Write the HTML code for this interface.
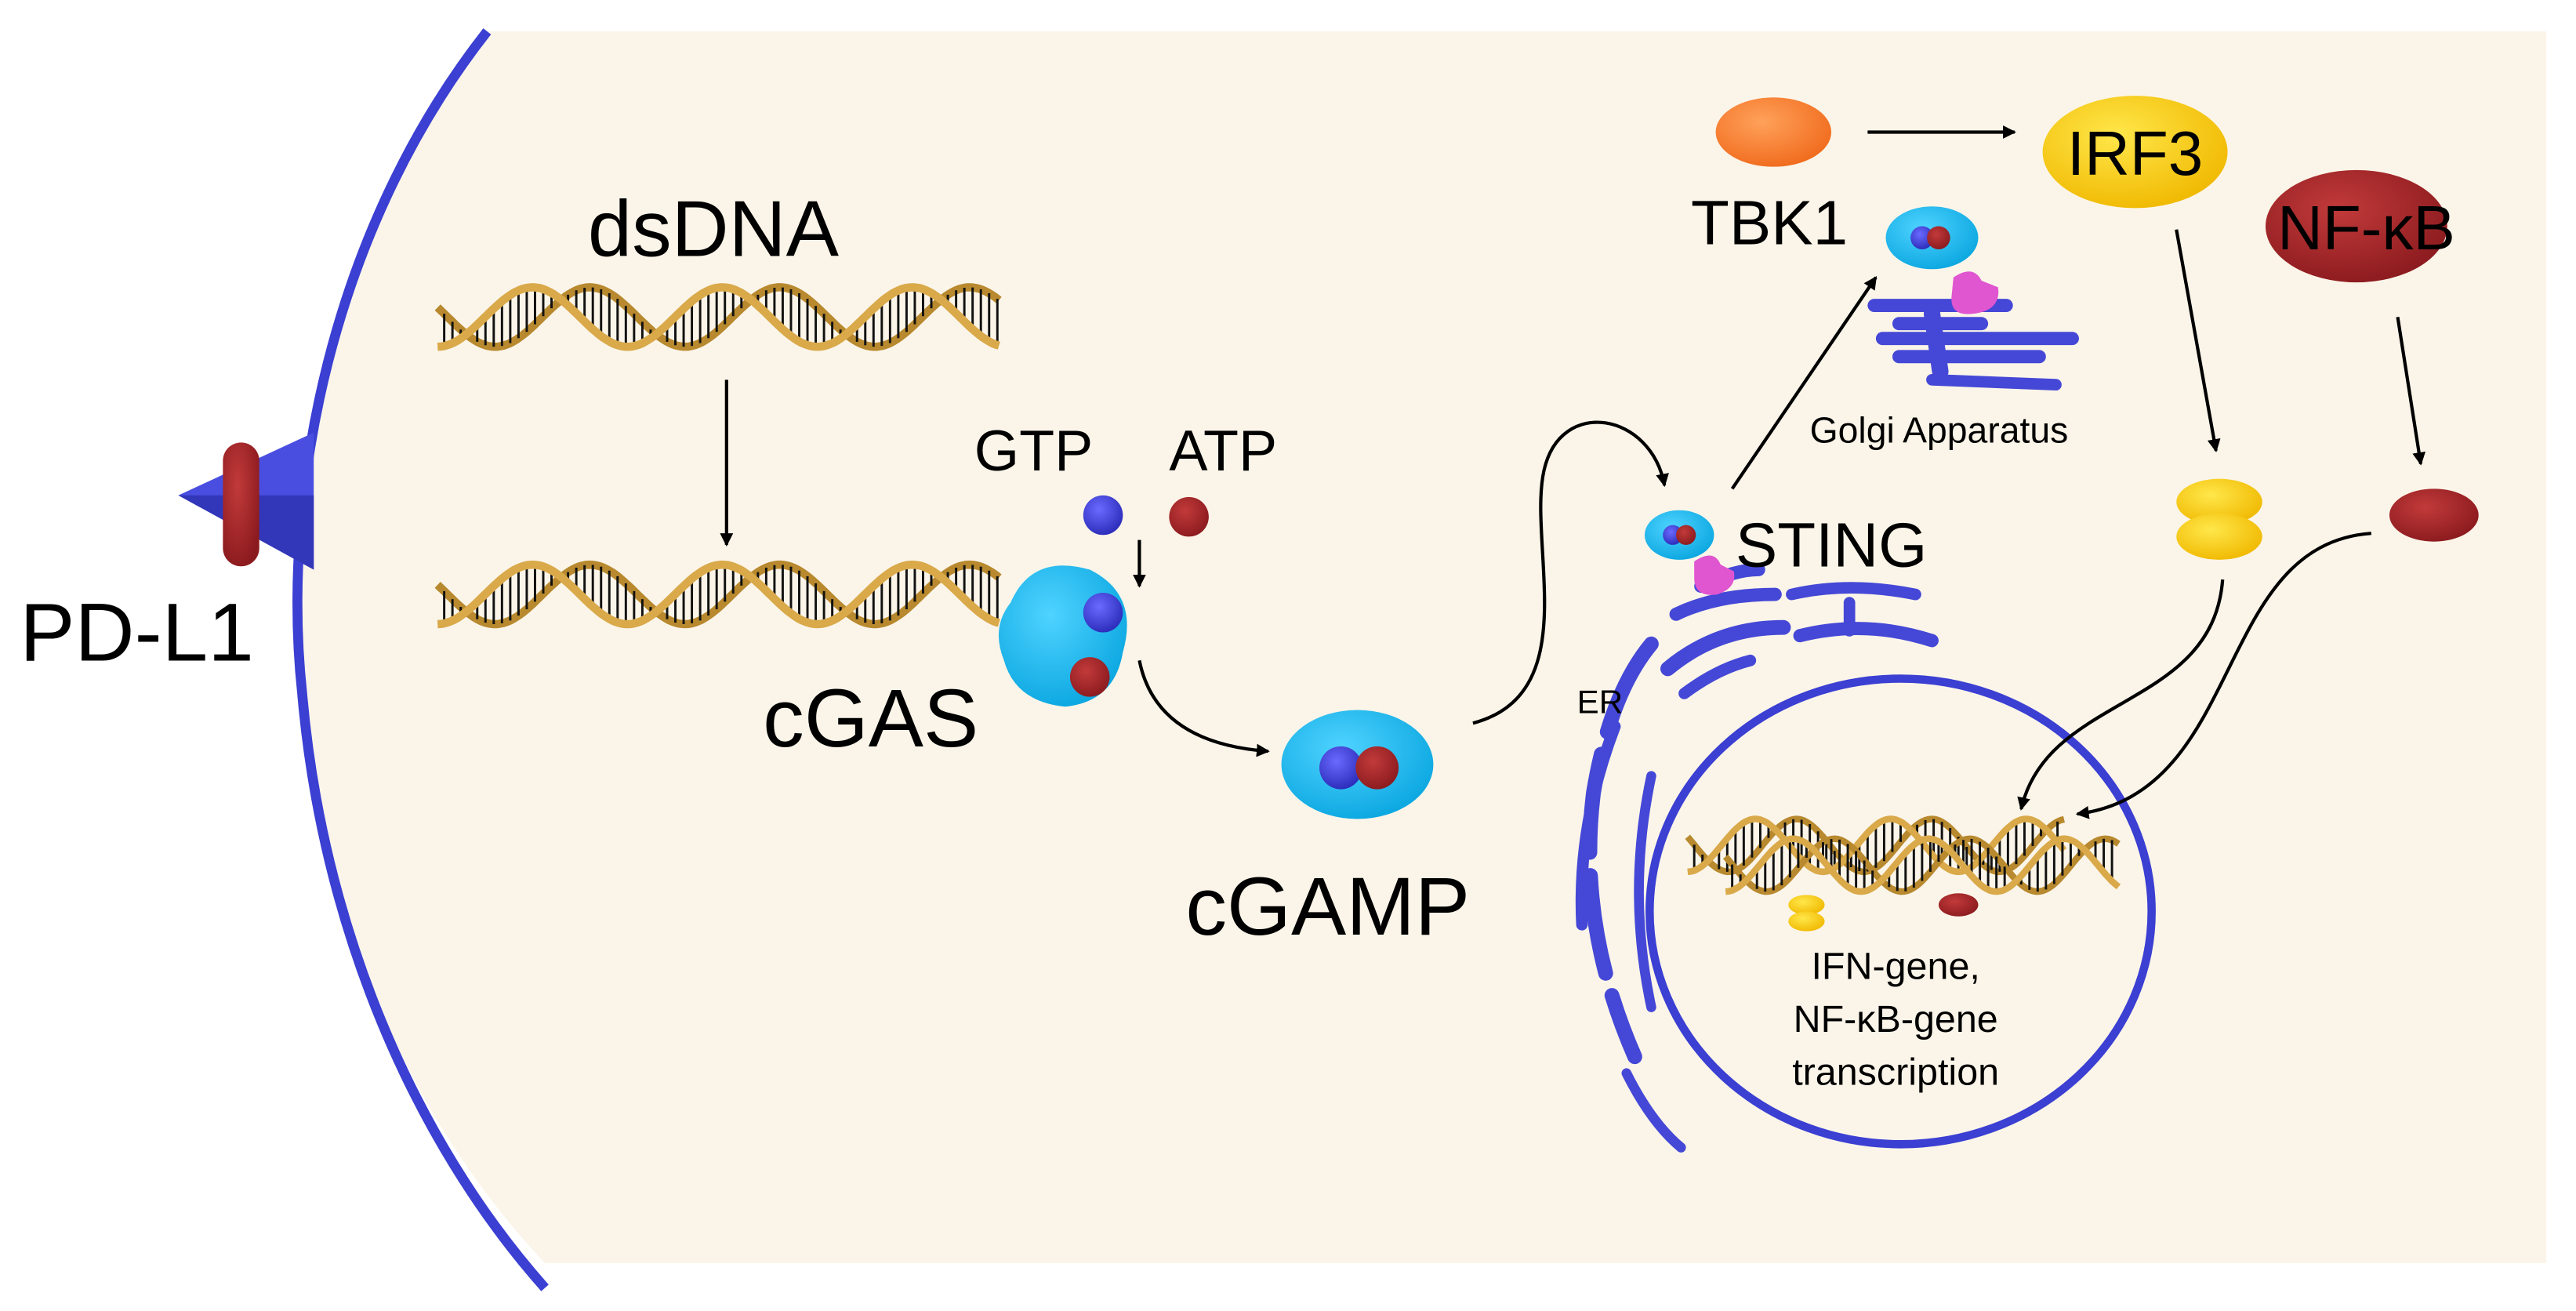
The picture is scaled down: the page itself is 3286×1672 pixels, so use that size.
<!DOCTYPE html>
<html><head><meta charset="utf-8"><style>
html,body{margin:0;padding:0;background:#fff;}
svg{display:block;}
text{font-family:"Liberation Sans",sans-serif;fill:#000;}
</style></head><body>
<svg id="s" width="3286" height="1672" viewBox="0 0 1560 794" preserveAspectRatio="none" xmlns="http://www.w3.org/2000/svg">
<defs>
<marker id="ah" markerWidth="8" markerHeight="8" refX="7" refY="4" orient="auto" markerUnits="userSpaceOnUse"><path d="M0,0 L8,4 L0,8 Z" fill="#000"/></marker>
<radialGradient id="cy" cx="0.4" cy="0.35" r="0.7"><stop offset="0" stop-color="#4fd3ff"/><stop offset="1" stop-color="#0aa6e0"/></radialGradient>
<radialGradient id="or" cx="0.4" cy="0.35" r="0.7"><stop offset="0" stop-color="#ffa15a"/><stop offset="1" stop-color="#f06a1c"/></radialGradient>
<radialGradient id="ye" cx="0.4" cy="0.35" r="0.7"><stop offset="0" stop-color="#ffe74a"/><stop offset="1" stop-color="#f0b800"/></radialGradient>
<radialGradient id="rd" cx="0.4" cy="0.35" r="0.7"><stop offset="0" stop-color="#c23a3a"/><stop offset="1" stop-color="#8a1a1e"/></radialGradient>
<radialGradient id="bl" cx="0.4" cy="0.35" r="0.7"><stop offset="0" stop-color="#6a6aff"/><stop offset="1" stop-color="#2a2ab8"/></radialGradient>
</defs>
<rect width="1560" height="794" fill="#fff"/>
<path d="M295,19 C200,140 170,300 183,420 C195,560 250,680 330,765 L1542,765 L1542,19 Z" fill="#FBF5E9"/>
<path d="M295,19 C200,140 170,300 183,420 C195,560 250,690 330,780" fill="none" stroke="#3B3FD2" stroke-width="6"/>
<!-- PD-L1 -->
<polygon points="108,300 190,262 190,345" fill="#4a4ee0"/>
<polygon points="108,300 190,300 190,345" fill="#3236b8"/>
<rect x="135" y="268" width="22" height="75" rx="11" fill="url(#rd)"/>
<text x="12" y="400" font-size="50">PD-L1</text>
<!-- left texts -->
<text x="432" y="155" font-size="48" text-anchor="middle">dsDNA</text>
<g id="dna1"></g>
<g id="dna1b"></g>
<line x1="440" y1="230" x2="440" y2="330" stroke="#000" stroke-width="2" marker-end="url(#ah)"/>
<text x="590" y="285" font-size="35">GTP</text>
<text x="708" y="285" font-size="35">ATP</text>
<circle cx="668" cy="312" r="12" fill="url(#bl)"/>
<circle cx="720" cy="313" r="12" fill="url(#rd)"/>
<line x1="690" y1="327" x2="690" y2="355" stroke="#000" stroke-width="2" marker-end="url(#ah)"/>
<path d="M612,365 Q625,335 660,345 Q690,360 680,395 Q675,425 645,428 Q615,425 608,400 Q600,380 612,365Z" fill="url(#cy)"/>
<circle cx="668" cy="371" r="12" fill="url(#bl)"/>
<circle cx="660" cy="410" r="12" fill="url(#rd)"/>
<text x="462" y="452" font-size="50">cGAS</text>
<path d="M690,400 Q700,450 768,455" fill="none" stroke="#000" stroke-width="2" marker-end="url(#ah)"/>
<ellipse cx="822" cy="463" rx="46" ry="33" fill="url(#cy)"/>
<circle cx="812" cy="465" r="13" fill="url(#bl)"/>
<circle cx="834" cy="465" r="13" fill="url(#rd)"/>
<text x="718" y="566" font-size="50">cGAMP</text>
<path d="M892,438 C960,420 925,330 935,285 C945,240 1000,250 1008,294" fill="none" stroke="#000" stroke-width="2" marker-end="url(#ah)"/>
<!-- Nucleus & ER -->
<g fill="none" stroke="#4548d6" stroke-linecap="round">
<path d="M1000,390 Q975,420 965,480 Q955,560 990,640" stroke-width="9" stroke-dasharray="60 14"/>
<path d="M978,440 Q955,500 958,560" stroke-width="7"/>
<path d="M985,650 Q1000,680 1018,695" stroke-width="6"/>
<path d="M1010,405 Q1040,380 1080,380" stroke-width="9"/>
<path d="M1015,372 Q1040,360 1075,360" stroke-width="8"/>
<path d="M1030,355 Q1050,345 1065,345" stroke-width="8"/>
<path d="M1090,385 Q1130,375 1170,388" stroke-width="8"/>
<path d="M1085,360 Q1120,352 1160,360" stroke-width="7"/>
<path d="M1120,365 L1120,382" stroke-width="7"/>
<path d="M1020,420 Q1040,405 1060,400" stroke-width="7"/>
<path d="M1000,470 Q985,540 1000,610" stroke-width="6"/>
</g>
<ellipse cx="1151" cy="552" rx="152" ry="141" fill="none" stroke="#3B3FD2" stroke-width="5"/>
<g id="dna2"></g>
<ellipse cx="1094" cy="548" rx="11" ry="6" fill="url(#ye)"/>
<ellipse cx="1094" cy="558" rx="11" ry="6" fill="url(#ye)"/>
<ellipse cx="1186" cy="548" rx="12" ry="7" fill="url(#rd)"/>
<text x="1148" y="593" font-size="23" text-anchor="middle">IFN-gene,</text>
<text x="1148" y="625" font-size="23" text-anchor="middle">NF-κB-gene</text>
<text x="1148" y="657" font-size="23" text-anchor="middle">transcription</text>
<text x="955" y="432" font-size="20">ER</text>
<!-- STING -->
<ellipse cx="1017" cy="324" rx="21" ry="15" fill="url(#cy)"/>
<circle cx="1013" cy="324" r="6" fill="url(#bl)"/><circle cx="1021" cy="324" r="6" fill="url(#rd)"/>
<path d="M1026,340 Q1038,332 1042,342 L1050,346 Q1052,356 1040,360 Q1026,362 1026,350Z" fill="#e055d0"/>
<text x="1051" y="343" font-size="38">STING</text>
<line x1="1049" y1="296" x2="1136" y2="168" stroke="#000" stroke-width="2" marker-end="url(#ah)"/>
<!-- Golgi -->
<g fill="none" stroke="#4548d6" stroke-linecap="round">
<path d="M1135,185 L1215,185" stroke-width="8"/>
<path d="M1150,196 L1200,196" stroke-width="8"/>
<path d="M1140,205 L1255,205" stroke-width="8"/>
<path d="M1150,216 L1235,216" stroke-width="8"/>
<path d="M1170,230 L1245,233" stroke-width="7"/>
<path d="M1170,190 L1175,225" stroke-width="10"/>
</g>
<ellipse cx="1170" cy="144" rx="28" ry="19" fill="url(#cy)"/>
<circle cx="1164" cy="144" r="7" fill="url(#bl)"/><circle cx="1174" cy="144" r="7" fill="url(#rd)"/>
<path d="M1183,168 Q1195,160 1200,170 L1210,174 Q1212,188 1195,190 Q1180,192 1182,178Z" fill="#e055d0"/>
<text x="1096" y="268" font-size="22">Golgi Apparatus</text>
<!-- TBK1 / IRF3 / NFkB -->
<ellipse cx="1074" cy="80" rx="35" ry="21" fill="url(#or)"/>
<text x="1024" y="148" font-size="38">TBK1</text>
<line x1="1131" y1="80" x2="1220" y2="80" stroke="#000" stroke-width="2" marker-end="url(#ah)"/>
<ellipse cx="1293" cy="92" rx="56" ry="34" fill="url(#ye)"/>
<text x="1293" y="106" font-size="38" text-anchor="middle">IRF3</text>
<ellipse cx="1427" cy="137" rx="55" ry="34" fill="url(#rd)"/>
<text x="1433" y="151" font-size="38" text-anchor="middle">NF-κB</text>
<line x1="1318" y1="139" x2="1342" y2="273" stroke="#000" stroke-width="2" marker-end="url(#ah)"/>
<line x1="1452" y1="192" x2="1466" y2="281" stroke="#000" stroke-width="2" marker-end="url(#ah)"/>
<ellipse cx="1344" cy="304" rx="26" ry="14" fill="url(#ye)"/>
<ellipse cx="1344" cy="325" rx="26" ry="14" fill="url(#ye)"/>
<ellipse cx="1474" cy="312" rx="27" ry="16" fill="url(#rd)"/>
<path d="M1346,351 C1340,430 1240,420 1224,490" fill="none" stroke="#000" stroke-width="2" marker-end="url(#ah)"/>
<path d="M1436,323 C1340,330 1360,480 1258,493" fill="none" stroke="#000" stroke-width="2" marker-end="url(#ah)"/>
</svg>
<script>
function helix(g,x0,x1,yt,yb,P,sw){
  var yc=(yt+yb)/2,A=(yb-yt)/2,d1="",d2="",out="";
  for(var x=x0;x<=x1;x+=2){
    var t=(x-x0)/P*2*Math.PI;
    var y1=yc+A*Math.cos(t), y2=yc+A*Math.cos(t-1.9);
    d1+=(x==x0?"M":"L")+x+","+y1.toFixed(1);
    d2+=(x==x0?"M":"L")+x+","+y2.toFixed(1);
  }
  for(var x=x0+4;x<x1;x+=5){
    var t=(x-x0)/P*2*Math.PI;
    var y1=yc+A*Math.cos(t), y2=yc+A*Math.cos(t-1.9);
    if(Math.abs(y1-y2)>5) out+='<line x1="'+x+'" y1="'+y1.toFixed(1)+'" x2="'+x+'" y2="'+y2.toFixed(1)+'" stroke="#111" stroke-width="1.4"/>';
  }
  out='<path d="'+d2+'" fill="none" stroke="#b8892e" stroke-width="'+sw+'"/>'+out+'<path d="'+d1+'" fill="none" stroke="#d9a94a" stroke-width="'+sw+'"/>';
  g.insertAdjacentHTML("beforeend",out);
}
helix(document.getElementById("dna1"),265,605,174,210,115,5);
helix(document.getElementById("dna1b"),265,605,342,378,115,5);
var g2=document.getElementById("dna2");
helix(g2,1022,1250,496,528,82,4);
helix(g2,1045,1283,508,540,82,4);
</script>
</body></html>
